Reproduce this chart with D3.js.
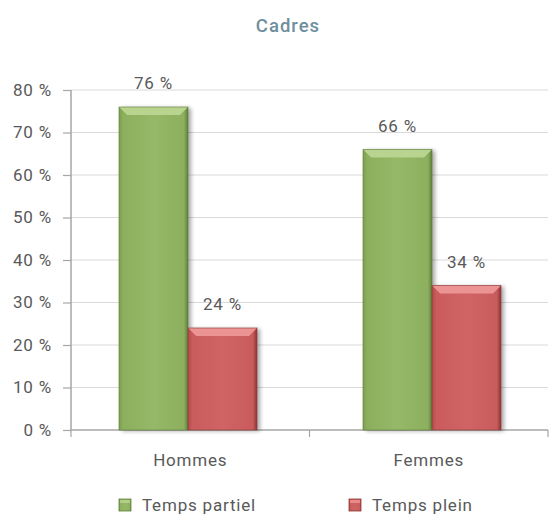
<!DOCTYPE html>
<html><head><meta charset="utf-8">
<script src="https://cdn.jsdelivr.net/npm/d3@7"></script>
<style>body{margin:0;background:#fff}svg{display:block;font-family:Roboto,"DejaVu Sans",sans-serif}</style>
</head><body>
<svg id="c" width="549" height="515"></svg>
<script>
const categories = ["Hommes", "Femmes"];
const seriesNames = ["Temps partiel", "Temps plein"];
const partiel = [76, 66];
const plein = [24, 34];
const yTicks = [0, 10, 20, 30, 40, 50, 60, 70, 80];
const title = "Cadres";

const svg = d3.select("#c");
const m = {l: 71, r: 548, t: 90, b: 430};
const x = d3.scaleBand().domain(categories).range([m.l, m.r]);
const xb = d3.scaleBand().domain(categories).range([m.l - 5, m.r + 6]);
const y = d3.scaleLinear().domain([0, 80]).range([m.b, m.t]);
const sub = d3.scaleBand().domain(seriesNames).range([0, 138]);
const FS = 17, LS = "0.8px", FW = 400;

const defs = svg.append("defs");
const colors = {
  "Temps partiel": {base: "#8cb05e", light: "#b8d48e", dark: "#5f7f3b", mid: "#95b868"},
  "Temps plein": {base: "#c95b5b", light: "#ec9494", dark: "#8e3535", mid: "#d06464"}
};
Object.entries(colors).forEach(([k, c], i) => {
  const g = defs.append("linearGradient").attr("id", "g" + i).attr("x1", 0).attr("x2", 1).attr("y1", 0).attr("y2", 0);
  g.append("stop").attr("offset", "0").attr("stop-color", c.dark);
  g.append("stop").attr("offset", "0.06").attr("stop-color", c.base);
  g.append("stop").attr("offset", "0.5").attr("stop-color", c.mid);
  g.append("stop").attr("offset", "0.94").attr("stop-color", c.base);
  g.append("stop").attr("offset", "1").attr("stop-color", c.dark);
});
const f = defs.append("filter").attr("id", "sh").attr("x", "-20%").attr("y", "-20%").attr("width", "150%").attr("height", "150%");
f.append("feGaussianBlur").attr("in", "SourceAlpha").attr("stdDeviation", 2);
f.append("feOffset").attr("dx", 3).attr("dy", 1).attr("result", "o");
f.append("feComponentTransfer").append("feFuncA").attr("type", "linear").attr("slope", 0.35);
const fm = f.append("feMerge"); fm.append("feMergeNode"); fm.append("feMergeNode").attr("in", "SourceGraphic");

// title
svg.append("text").attr("x", 288).attr("y", 32).attr("text-anchor", "middle")
  .attr("fill", "#6f8e9e").attr("font-size", 18.5).attr("font-weight", 500).attr("letter-spacing", "1px").text(title);

// gridlines
svg.append("g").selectAll("line").data(yTicks.filter(d => d > 0)).join("line")
  .attr("x1", m.l).attr("x2", m.r).attr("y1", d => y(d)).attr("y2", d => y(d))
  .attr("stroke", "#d9d9d9").attr("stroke-width", 1.2);

// y axis
const ya = svg.append("g").attr("transform", `translate(${m.l},0)`)
  .call(d3.axisLeft(y).tickValues(yTicks).tickSize(8).tickPadding(11).tickFormat(d => d + " %"));
ya.select(".domain").attr("stroke", "#a6a6a6").attr("stroke-width", 1.5).attr("d", `M0,${m.t}V${m.b}`);
ya.selectAll(".tick line").attr("stroke", "#a6a6a6").attr("stroke-width", 1.2);
ya.selectAll(".tick text").attr("fill", "#595959").attr("font-size", FS).attr("font-weight", FW).attr("letter-spacing", LS)
  .attr("font-family", "Roboto,sans-serif").attr("dy", "0.32em");

// x axis
const xa = svg.append("g").attr("transform", `translate(0,${m.b})`)
  .call(d3.axisBottom(x).tickSize(0).tickPadding(24));
xa.select(".domain").attr("stroke", "#a6a6a6").attr("stroke-width", 1.5).attr("d", `M${m.l},0H${m.r}`);
xa.selectAll(".tick text").attr("fill", "#595959").attr("font-size", FS).attr("font-weight", FW).attr("letter-spacing", LS)
  .attr("font-family", "Roboto,sans-serif");
xa.selectAll(".sep").data([m.l, m.l + x.bandwidth(), m.r]).join("line").attr("class", "sep")
  .attr("x1", d => d).attr("x2", d => d).attr("y1", 0).attr("y2", 7).attr("stroke", "#a6a6a6").attr("stroke-width", 1.2);

// bars
const data = [];
categories.forEach((c, i) => {
  data.push({cat: c, s: seriesNames[0], v: partiel[i], gi: 0});
  data.push({cat: c, s: seriesNames[1], v: plein[i], gi: 1});
});
const bx = d => xb(d.cat) + xb.bandwidth() / 2 - 69 + sub(d.s);
const bw = sub.bandwidth();
const bars = svg.append("g").selectAll("g").data(data).join("g");
bars.append("rect").attr("x", bx).attr("y", d => y(d.v)).attr("width", bw).attr("height", d => y(0) - y(d.v))
  .attr("fill", d => `url(#g${d.gi})`).attr("filter", "url(#sh)");
const bev = 8;
bars.append("path").attr("d", d => {
  const x0 = bx(d), x1 = x0 + bw, t = y(d.v);
  return `M${x0},${t}H${x1}L${x1 - bev},${t + bev}H${x0 + bev}Z`;
}).attr("fill", d => colors[d.s].light);
bars.append("path").attr("d", d => {
  const x0 = bx(d), t = y(d.v);
  return `M${x0},${t}L${x0 + bev},${t + bev}V${y(0)}H${x0}Z`;
}).attr("fill", d => colors[d.s].base).attr("opacity", 0.6);
bars.append("rect").attr("x", bx).attr("y", d => y(d.v)).attr("width", bw).attr("height", d => y(0) - y(d.v))
  .attr("fill", "none").attr("stroke", d => colors[d.s].dark).attr("stroke-width", 1).attr("stroke-opacity", 0.6);

// labels
bars.append("text").attr("x", d => bx(d) + bw / 2).attr("y", d => y(d.v) - 18)
  .attr("text-anchor", "middle").attr("fill", "#595959").attr("font-size", FS).attr("font-weight", FW)
  .attr("letter-spacing", LS).text(d => d.v + " %");

// legend
const lx = [119, 349];
const leg = svg.append("g").selectAll("g").data(seriesNames).join("g")
  .attr("transform", (d, i) => `translate(${lx[i]},499)`);
leg.append("rect").attr("width", 12).attr("height", 12).attr("fill", (d, i) => `url(#g${i})`)
  .attr("stroke", (d) => colors[d].dark).attr("stroke-width", 0.8);
leg.append("rect").attr("x", 1).attr("y", 1).attr("width", 10).attr("height", 3).attr("fill", d => colors[d].light).attr("opacity", 0.8);
leg.append("text").attr("x", 23).attr("y", 12).attr("fill", "#595959").attr("font-size", FS).attr("font-weight", FW)
  .attr("letter-spacing", LS).text(d => d);
</script>
</body></html>
